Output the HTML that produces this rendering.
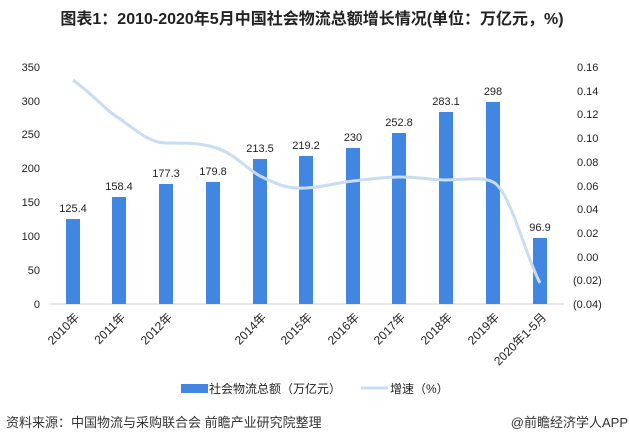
<!DOCTYPE html>
<html><head><meta charset="utf-8"><style>
body{margin:0;background:#fff;width:629px;height:443px;overflow:hidden;font-family:"Liberation Sans","Noto Sans CJK SC",sans-serif;}
</style></head><body>
<svg width="629" height="443" xmlns="http://www.w3.org/2000/svg" font-family="Liberation Sans, Noto Sans CJK SC, sans-serif">
<text x="312" y="24" text-anchor="middle" font-size="16" font-weight="bold" fill="#222">图表1：2010-2020年5月中国社会物流总额增长情况(单位：万亿元，%)</text>
<g font-size="11" fill="#222" text-anchor="end">
<text x="40" y="71">350</text><text x="40" y="105">300</text><text x="40" y="138">250</text><text x="40" y="172">200</text><text x="40" y="206">150</text><text x="40" y="240">100</text><text x="40" y="274">50</text><text x="40" y="308">0</text>
</g>
<g font-size="11" fill="#222">
<text x="577" y="71">0.16</text><text x="577" y="95">0.14</text><text x="577" y="118">0.12</text><text x="577" y="142">0.10</text><text x="577" y="166">0.08</text><text x="577" y="190">0.06</text><text x="577" y="213">0.04</text><text x="577" y="237">0.02</text><text x="577" y="261">0.00</text><text x="573" y="284">(0.02)</text><text x="573" y="308">(0.04)</text>
</g>
<line x1="50" y1="304" x2="564" y2="304" stroke="#d0d0d0"/>
<g fill="#4186e0">
<rect x="66" y="219" width="14" height="85"/>
<rect x="112" y="197" width="14" height="107"/>
<rect x="159" y="184" width="14" height="120"/>
<rect x="206" y="182" width="14" height="122"/>
<rect x="253" y="159" width="14" height="145"/>
<rect x="299" y="156" width="14" height="148"/>
<rect x="346" y="148" width="14" height="156"/>
<rect x="392" y="133" width="14" height="171"/>
<rect x="439" y="112" width="14" height="192"/>
<rect x="486" y="102" width="14" height="202"/>
<rect x="533" y="238" width="14" height="66"/>
</g>
<g font-size="11" fill="#222" text-anchor="middle">
<text x="73" y="212">125.4</text><text x="119" y="190">158.4</text><text x="166" y="177">177.3</text><text x="213" y="175">179.8</text><text x="260" y="152">213.5</text><text x="306" y="149">219.2</text><text x="353" y="141">230</text><text x="399" y="126">252.8</text><text x="446" y="105">283.1</text><text x="493" y="95">298</text><text x="540" y="231">96.9</text>
</g>
<path d="M73,80 C95,96 105,110 119,118 C135,130 150,143 166,143 C185,143 200,143 213,147 C235,153 245,168 260,176 C280,186 290,189 306,188 C325,187 335,183 353,181 C370,179 385,177 399,177 C420,177 430,180 446,180 C465,180 480,176 493,182 C510,190 525,255 540,283" fill="none" stroke="#c8dcf4" stroke-width="3"/>
<g font-size="12" fill="#222" text-anchor="end">
<text transform="translate(80,318) rotate(-45)">2010年</text>
<text transform="translate(126,318) rotate(-45)">2011年</text>
<text transform="translate(173,318) rotate(-45)">2012年</text>
<text transform="translate(267,318) rotate(-45)">2014年</text>
<text transform="translate(313,318) rotate(-45)">2015年</text>
<text transform="translate(360,318) rotate(-45)">2016年</text>
<text transform="translate(406,318) rotate(-45)">2017年</text>
<text transform="translate(453,318) rotate(-45)">2018年</text>
<text transform="translate(500,318) rotate(-45)">2019年</text>
<text transform="translate(547,318) rotate(-45)">2020年1-5月</text>
</g>
<rect x="181" y="384" width="27" height="9" fill="#4186e0"/>
<text x="209" y="393" font-size="12" fill="#222">社会物流总额（万亿元）</text>
<line x1="361" y1="388" x2="388" y2="388" stroke="#c8dcf4" stroke-width="3"/>
<text x="390" y="393" font-size="12" fill="#222">增速（%）</text>
<text x="6" y="427" font-size="13" fill="#333">资料来源：中国物流与采购联合会 前瞻产业研究院整理</text>
<text x="628" y="427" font-size="13" fill="#333" text-anchor="end">@前瞻经济学人APP</text>
</svg>
</body></html>
